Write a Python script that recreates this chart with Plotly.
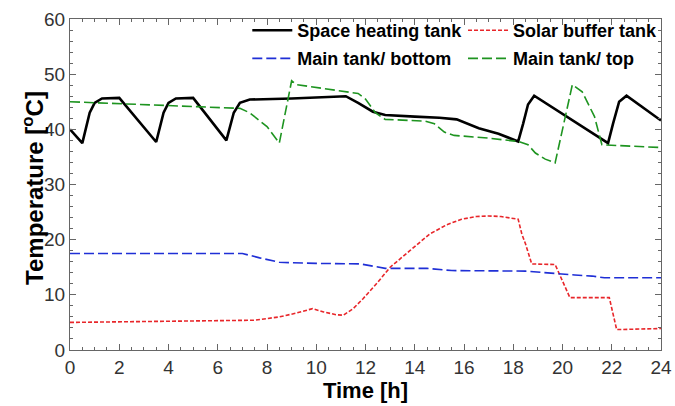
import plotly.graph_objects as go

# Space heating tank temperature over the day
t_space = [0, 0.5, 0.8, 1.0, 1.3, 2.0, 3.5, 3.8, 4.0, 4.3, 5.0, 6.35, 6.65, 6.9, 7.3, 9.0,
           11.2, 11.7, 12.3, 12.8, 14.0, 15.0, 15.7, 16.6, 17.4, 18.2, 18.4, 18.6, 18.85,
           21.85, 22.05, 22.3, 22.6, 24]
T_space = [40, 37.5, 43.0, 44.8, 45.6, 45.7, 37.7, 43.0, 44.8, 45.6, 45.7, 38.0, 43.0, 44.8,
           45.4, 45.6, 46.0, 44.8, 43.2, 42.6, 42.3, 42.1, 41.8, 40.2, 39.2, 37.8, 41.0, 44.5,
           46.1, 37.5, 41.0, 45.0, 46.1, 41.6]

# Solar buffer tank
t_solar = [0, 4, 7.5, 8.5, 9.2, 9.85, 10.3, 10.8, 11.1, 11.5, 11.9, 12.5, 13.0, 13.8, 14.6,
           15.3, 15.9, 16.5, 17.0, 17.5, 18.2, 18.35, 18.5, 18.75, 19.7, 20.3, 21.9, 22.2, 24]
T_solar = [5.0, 5.2, 5.4, 6.0, 6.7, 7.5, 6.9, 6.4, 6.3, 7.5, 9.3, 12.3, 15.0, 18.0, 21.0,
           22.7, 23.7, 24.2, 24.3, 24.2, 23.7, 21.0, 19.2, 15.6, 15.5, 9.5, 9.5, 3.7, 3.9]

# Main tank, bottom layer
t_bottom = [0, 7.0, 7.7, 8.5, 10, 11.8, 12.3, 12.8, 14.5, 15.0, 15.5, 18.5, 19.5, 20.5,
            21.2, 21.7, 24]
T_bottom = [17.5, 17.5, 16.7, 15.9, 15.7, 15.6, 15.2, 14.8, 14.8, 14.6, 14.4, 14.3, 13.9,
            13.6, 13.4, 13.1, 13.1]

# Main tank, top layer
t_top = [0, 3, 6.9, 7.3, 8.0, 8.5, 9.0, 9.2, 10.0, 10.9, 11.7, 12.0, 12.4, 12.8, 14.4,
         14.8, 15.2, 15.6, 17, 18.2, 18.6, 18.9, 19.3, 19.7, 20.4, 20.8, 21.3, 21.6, 22.5, 24]
T_top = [45, 44.5, 43.8, 43.0, 40.5, 37.5, 48.8, 48.1, 47.6, 47.1, 46.5, 45.5, 43.0, 41.8,
         41.5, 41.0, 39.5, 38.9, 38.4, 37.8, 37.2, 35.7, 34.6, 33.9, 48.1, 46.8, 42.3, 37.2,
         37.0, 36.7]

x_ticks = list(range(0, 25, 2))
y_ticks = list(range(0, 61, 10))

FONT = "Liberation Sans, Arial"

fig = go.Figure()
fig.add_trace(go.Scatter(x=t_space, y=T_space, mode="lines", name="<b>Space heating tank</b>",
                         line=dict(color="black", width=2.6), legend="legend"))
fig.add_trace(go.Scatter(x=t_solar, y=T_solar, mode="lines", name="<b>Solar buffer tank</b>",
                         line=dict(color="#e8262a", width=1.6, dash="4px,2px"), legend="legend2"))
fig.add_trace(go.Scatter(x=t_bottom, y=T_bottom, mode="lines", name="<b>Main tank/ bottom</b>",
                         line=dict(color="#1f2fd6", width=1.6, dash="10px,4px"), legend="legend3"))
fig.add_trace(go.Scatter(x=t_top, y=T_top, mode="lines", name="<b>Main tank/ top</b>",
                         line=dict(color="#1e9420", width=1.6, dash="10px,4px"), legend="legend4"))

axis_common = dict(
    showline=True, linecolor="#666", linewidth=1.2, mirror="ticks",
    ticks="inside", ticklen=6, tickwidth=1, tickcolor="#666",
    showgrid=False, zeroline=False, automargin=False,
    tickfont=dict(family=FONT, size=19, color="#333"),
)

fig.update_xaxes(
    range=[0, 24], tickvals=x_ticks,
    minor=dict(dtick=0.5, ticks="inside", ticklen=3, tickcolor="#666"),
    title=dict(text="<b>Time [h]</b>", standoff=0,
               font=dict(family=FONT, size=22, color="black")),
    **axis_common,
)
fig.update_yaxes(
    range=[0, 60], tickvals=y_ticks,
    minor=dict(dtick=2, ticks="inside", ticklen=3, tickcolor="#666"),
    **axis_common,
)

# y-axis title placed as an annotation so it can sit close to the tick labels
fig.add_annotation(
    text="<b>Temperature [<sup>o</sup>C]</b>", textangle=-90,
    xref="paper", yref="paper", x=-0.0624, y=0.49,
    xanchor="center", yanchor="middle", showarrow=False,
    font=dict(family=FONT, size=24, color="black"),
)

legend_common = dict(
    orientation="h", xanchor="left", yanchor="middle",
    bgcolor="rgba(0,0,0,0)", itemwidth=40,
    font=dict(family=FONT, size=18, color="black"),
)

col1, col2 = 0.30, 0.665
row1, row2 = 0.965, 0.88

fig.update_layout(
    width=675, height=406,
    margin=dict(l=70, r=12, t=17, b=56),
    plot_bgcolor="white", paper_bgcolor="white",
    showlegend=True,
    legend=dict(x=col1, y=row1, **legend_common),
    legend2=dict(x=col2, y=row1, **legend_common),
    legend3=dict(x=col1, y=row2, **legend_common),
    legend4=dict(x=col2, y=row2, **legend_common),
)

fig.write_html("out.html")
